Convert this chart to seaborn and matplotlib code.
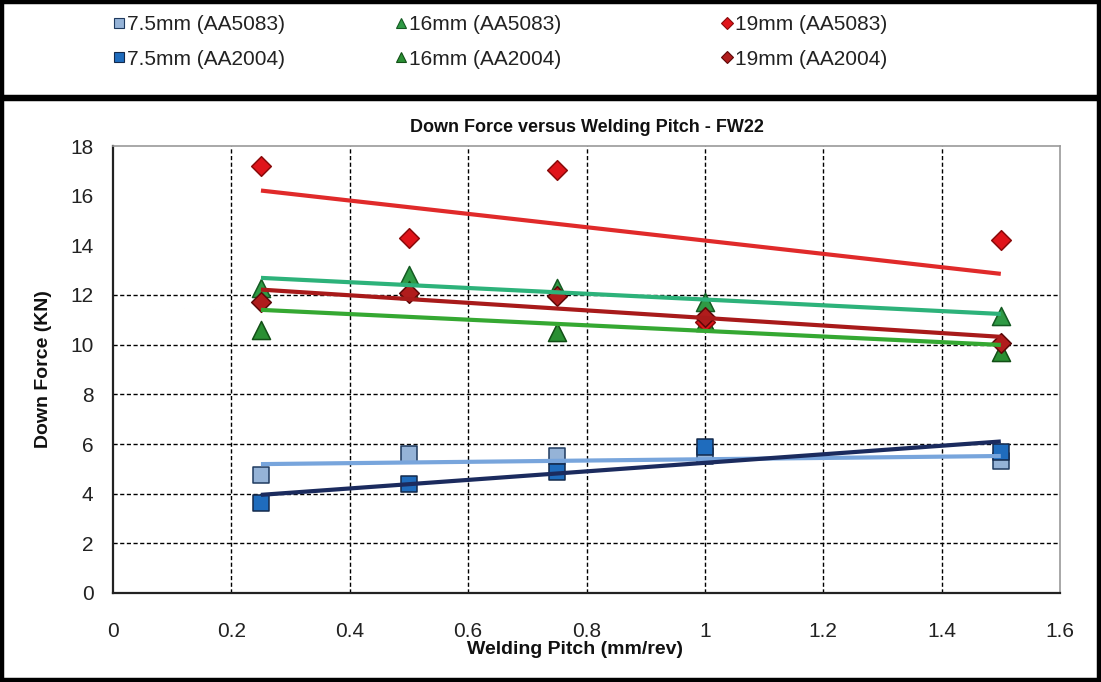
import numpy as np
import pandas as pd
import matplotlib
matplotlib.use("Agg")
import matplotlib.pyplot as plt
from matplotlib.patches import Rectangle
from matplotlib.lines import Line2D
import seaborn as sns

# ---------------- data ----------------
pitch = [0.25, 0.5, 0.75, 1.0, 1.5]

force_75_aa5083 = [4.75, 5.6, 5.52, 5.5, 5.3]
force_75_aa2004 = [3.64, 4.39, 4.89, 5.89, 5.68]
force_16_aa5083 = [12.3, 12.8, 12.3, 11.7, 11.15]
force_16_aa2004 = [10.6, 12.2, 10.5, 10.9, 9.7]
force_19_aa5083 = [17.2, 14.3, 17.05, 10.9, 14.2]
force_19_aa2004 = [11.7, 12.1, 11.95, 11.1, 10.05]

series_labels = ["7.5mm (AA5083)", "7.5mm (AA2004)",
                 "16mm (AA5083)", "16mm (AA2004)",
                 "19mm (AA5083)", "19mm (AA2004)"]
series_values = [force_75_aa5083, force_75_aa2004,
                 force_16_aa5083, force_16_aa2004,
                 force_19_aa5083, force_19_aa2004]

title_text = "Down Force versus Welding Pitch - FW22"
xlabel_text = "Welding Pitch (mm/rev)"
ylabel_text = "Down Force (KN)"
xticks = [0, 0.2, 0.4, 0.6, 0.8, 1.0, 1.2, 1.4, 1.6]
xtick_labels = ["0", "0.2", "0.4", "0.6", "0.8", "1", "1.2", "1.4", "1.6"]
yticks = [0, 2, 4, 6, 8, 10, 12, 14, 16, 18]

# ---------------- styles ----------------
styles = {
    "7.5mm (AA5083)": dict(marker="s", face="#95b3d7", edge="#1f3a5f", line="#78a5dc", ms=11, lms=7),
    "7.5mm (AA2004)": dict(marker="s", face="#1f6cbd", edge="#13294b", line="#1b2b5e", ms=11, lms=7),
    "16mm (AA5083)":  dict(marker="^", face="#2f9a45", edge="#145a22", line="#2db27a", ms=13, lms=7.5),
    "16mm (AA2004)":  dict(marker="^", face="#2a8f33", edge="#124f16", line="#35a832", ms=13, lms=7.5),
    "19mm (AA5083)":  dict(marker="D", face="#e0141a", edge="#8a0a0a", line="#e02a2a", ms=10, lms=6),
    "19mm (AA2004)":  dict(marker="D", face="#b01c1c", edge="#5c0808", line="#a81a1a", ms=10, lms=6),
}

rows = []
for lab, vals in zip(series_labels, series_values):
    for x, y in zip(pitch, vals):
        rows.append({"series": lab, "pitch": x, "force": y})
df = pd.DataFrame(rows)

sns.set_style("white")
plt.rcParams["font.family"] = ["Liberation Sans", "DejaVu Sans"]

W, H = 1101, 682
fig = plt.figure(figsize=(W / 100, H / 100), dpi=100)

left, right, top, bottom = 113, 1060, 146, 593
ax = fig.add_axes([left / W, 1 - bottom / H, (right - left) / W, (bottom - top) / H])

# markers
for lab in series_labels:
    st = styles[lab]
    sub = df[df["series"] == lab]
    sns.scatterplot(data=sub, x="pitch", y="force", ax=ax, marker=st["marker"],
                    s=st["ms"] ** 2, color=st["face"], edgecolor=st["edge"],
                    linewidth=1.1, zorder=3, legend=False)

# trend lines (linear regression)
for lab in series_labels:
    st = styles[lab]
    sub = df[df["series"] == lab]
    sns.regplot(data=sub, x="pitch", y="force", ax=ax, scatter=False, ci=None,
                truncate=True, line_kws=dict(color=st["line"], lw=3.0, zorder=4,
                                             solid_capstyle="butt"))

ax.set_xlim(0, 1.6)
ax.set_ylim(0, 18)
ax.set_xticks(xticks)
ax.set_xticklabels(xtick_labels)
ax.set_yticks(yticks)

ax.grid(True, color="black", linestyle=(0, (3, 1.8)), linewidth=1.0)
ax.set_axisbelow(True)
for gl in ax.get_ygridlines():
    if np.isclose(gl.get_ydata()[0], 18) or np.isclose(gl.get_ydata()[0], 0):
        gl.set_visible(False)
for gl in ax.get_xgridlines():
    if np.isclose(gl.get_xdata()[0], 1.6) or np.isclose(gl.get_xdata()[0], 0):
        gl.set_visible(False)

for side in ["left", "bottom"]:
    ax.spines[side].set_color("#222222")
    ax.spines[side].set_linewidth(1.6)
for side in ["top", "right"]:
    ax.spines[side].set_color("#9a9a9a")
    ax.spines[side].set_linewidth(1.2)

ax.tick_params(axis="both", direction="out", length=5, width=1.4, color="#222222",
               labelsize=15, labelcolor="#222222")
ax.tick_params(axis="y", pad=9)
ax.tick_params(axis="x", pad=16)

ax.set_title(title_text, fontsize=13, fontweight="bold", pad=10, color="#111111")
ax.set_xlabel(xlabel_text, fontsize=14, fontweight="bold", color="#111111")
ax.xaxis.set_label_coords((575 - left) / (right - left), (bottom - 641) / (bottom - top))
ax.set_ylabel(ylabel_text, fontsize=14, fontweight="bold", color="#111111")
ax.yaxis.set_label_coords((52 - left) / (right - left), 0.5)

# legend: three columns, two rows
col_left = [113, 395, 721]
for ci, x0 in enumerate(col_left):
    handles = []
    labs = series_labels[2 * ci: 2 * ci + 2]
    for lab in labs:
        st = styles[lab]
        handles.append(Line2D([], [], linestyle="none", marker=st["marker"],
                              markersize=st["lms"], markerfacecolor=st["face"],
                              markeredgecolor=st["edge"], markeredgewidth=0.8))
    leg = fig.legend(handles, labs, loc="upper left",
                     bbox_to_anchor=(x0 / W, 1 - 15 / H), frameon=False,
                     fontsize=15, handlelength=0.55, handletextpad=0.12,
                     labelspacing=0.75, borderpad=0, borderaxespad=0)
    for t in leg.get_texts():
        t.set_color("#222222")

# frames around legend and chart boxes
fig.patches.append(Rectangle((2 / W, 1 - 97 / H), (W - 4) / W, 95 / H, transform=fig.transFigure,
                             fill=False, edgecolor="black", linewidth=3.2))
fig.patches.append(Rectangle((2 / W, 2 / H), (W - 4) / W, (H - 101) / H, transform=fig.transFigure,
                             fill=False, edgecolor="black", linewidth=3.2))

fig.savefig("out.png", dpi=100)
